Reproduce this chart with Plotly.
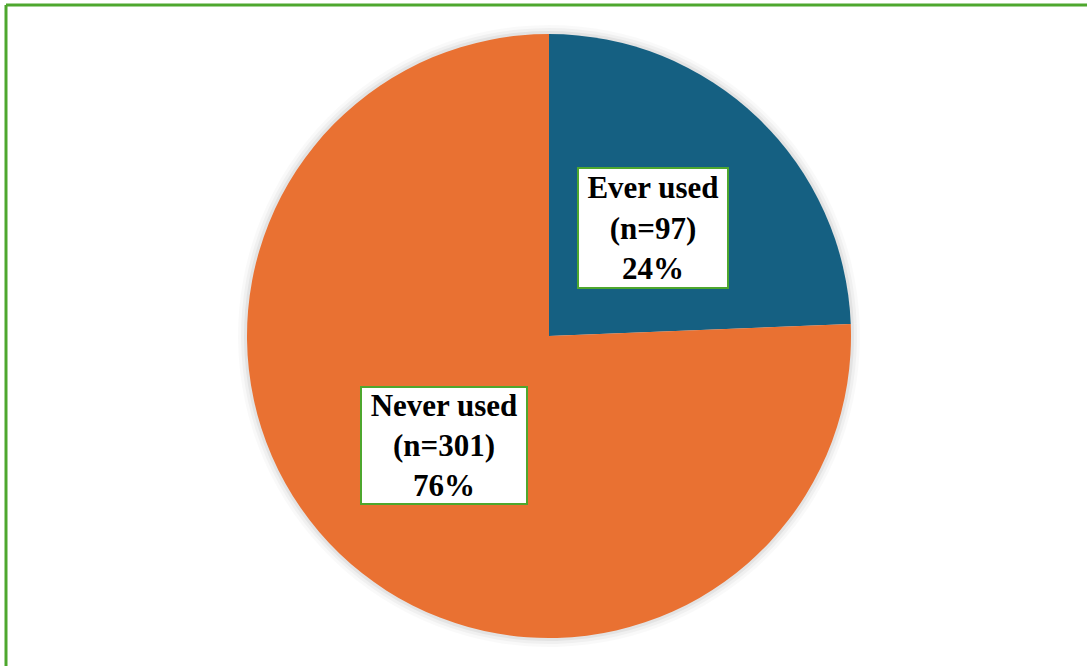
import plotly.graph_objects as go

categories = ["Ever used", "Never used"]
counts = [97, 301]
colors = ["#156082", "#E97132"]

W, H = 1087, 666
cx, cy, r = 549, 336, 302

def dom(rad):
    return dict(x=[(cx - rad) / W, (cx + rad) / W],
                y=[1 - (cy + rad) / H, 1 - (cy - rad) / H])

fig = go.Figure()
# soft shadow
for extra, op in [(9, 0.025), (6, 0.035), (3, 0.05)]:
    fig.add_trace(go.Pie(values=counts, labels=categories, sort=False,
                         direction="clockwise", rotation=0,
                         marker=dict(colors=["rgba(0,0,0,%s)" % op] * 2, line=dict(width=0)),
                         textinfo="none", hoverinfo="skip", showlegend=False,
                         domain=dom(r + extra)))
fig.add_trace(go.Pie(values=counts, labels=categories, sort=False,
                     direction="clockwise", rotation=0,
                     marker=dict(colors=colors, line=dict(width=0)),
                     textinfo="none", showlegend=False,
                     domain=dom(r)))

total = sum(counts)
label_pos = [(653, 228, 144, 114), (444, 445, 160, 111)]
for cat, n, (px, py, bw, bh) in zip(categories, counts, label_pos):
    pct = round(100 * n / total)
    fig.add_annotation(
        x=px / W, y=1 - py / H, xref="paper", yref="paper",
        xanchor="center", yanchor="middle",
        text=f"<b>{cat}</b><br><b>(n={n})</b><br><b>{pct}%</b>",
        showarrow=False, align="center", valign="middle",
        width=bw, height=bh,
        font=dict(family="Liberation Serif", size=31, color="black"),
        bgcolor="white", bordercolor="#4EA72E", borderwidth=2, borderpad=2,
    )

green = "#4EA72E"
fig.add_shape(type="line", xref="paper", yref="paper",
              x0=6 / W, x1=1.01, y0=1 - 5 / H, y1=1 - 5 / H,
              line=dict(color=green, width=3))
fig.add_shape(type="line", xref="paper", yref="paper",
              x0=6 / W, x1=6 / W, y0=-0.01, y1=1 - 5 / H,
              line=dict(color=green, width=3))

fig.update_layout(width=W, height=H, margin=dict(l=0, r=0, t=0, b=0),
                  paper_bgcolor="white", plot_bgcolor="white")
fig.write_html("out.html")
